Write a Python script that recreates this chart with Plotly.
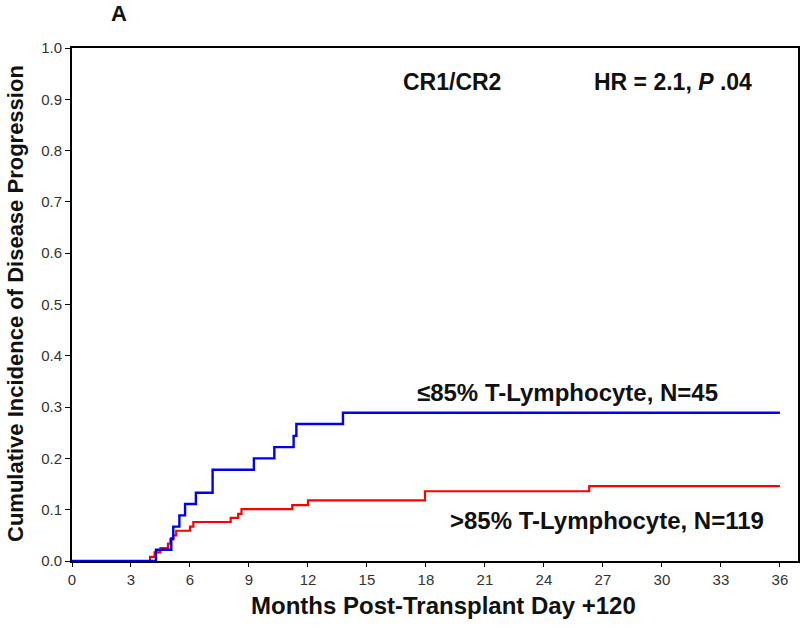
import plotly.graph_objects as go

# Data
months_low = [0, 4.27, 5.05, 5.15, 5.46, 5.75, 6.3, 7.15, 9.25, 10.29, 11.27, 11.41, 13.78, 36]
cuminc_low = [0, 0.022, 0.044, 0.067, 0.089, 0.111, 0.133, 0.178, 0.200, 0.222, 0.244, 0.267, 0.289, 0.289]

months_high = [0, 3.97, 4.2, 4.5, 4.88, 5.0, 5.15, 5.3, 6.0, 6.17, 8.07, 8.45, 8.62, 11.2, 12.0, 17.95, 26.3, 36]
cuminc_high = [0, 0.008, 0.017, 0.025, 0.034, 0.042, 0.050, 0.059, 0.067, 0.076, 0.084, 0.092, 0.101,
               0.109, 0.118, 0.136, 0.146, 0.146]

x_ticks = [0, 3, 6, 9, 12, 15, 18, 21, 24, 27, 30, 33, 36]
y_ticks = [0.0, 0.1, 0.2, 0.3, 0.4, 0.5, 0.6, 0.7, 0.8, 0.9, 1.0]

FONT = "Liberation Sans, Arial, sans-serif"

fig = go.Figure()
fig.add_trace(go.Scatter(x=months_high, y=cuminc_high, mode="lines", line_shape="hv",
                         line=dict(color="#ff0000", width=2.2), showlegend=False))
fig.add_trace(go.Scatter(x=months_low, y=cuminc_low, mode="lines", line_shape="hv",
                         line=dict(color="#0000ee", width=2.4), showlegend=False))

fig.update_layout(
    width=800, height=632,
    margin=dict(l=72, r=2, t=48, b=71),
    paper_bgcolor="white", plot_bgcolor="white",
    font=dict(family=FONT, color="#222"),
    xaxis=dict(range=[0, 36.92], tickvals=x_ticks, ticktext=[str(v) for v in x_ticks],
               showgrid=False, zeroline=False, showline=True, linecolor="black", linewidth=2,
               mirror=True, ticks="outside", ticklen=4, tickwidth=1, tickcolor="black",
               automargin=False, tickfont=dict(size=15, color="#333")),
    yaxis=dict(range=[0, 1], tickvals=y_ticks, ticktext=[f"{v:.1f}" for v in y_ticks],
               showgrid=False, zeroline=False, showline=True, linecolor="black", linewidth=2,
               mirror=True, ticks="outside", ticklen=5, tickwidth=1, tickcolor="black",
               automargin=False, tickfont=dict(size=15, color="#333")),
)

L, R, T, B = 72, 798, 48, 561
def px(xp): return (xp - L) / (R - L)
def py(yp): return (B - yp) / (B - T)

def ann(text, x, y, size, xanchor="center", angle=0):
    fig.add_annotation(text=text, x=px(x), y=py(y), xref="paper", yref="paper", xanchor=xanchor,
                       yanchor="middle", showarrow=False, textangle=angle,
                       font=dict(size=size, color="#111", family=FONT))

ann("<b>A</b>", 119, 14, 22)
ann("<b>Cumulative Incidence of Disease Progression</b>", 15, 304, 22, angle=-90)
ann("<b>Months Post-Transplant Day +120</b>", 444, 605, 24)
ann("<b>CR1/CR2</b>", 503, 82, 23, xanchor="right")
ann("<b>HR = 2.1, <i>P</i> .04</b>", 592, 82, 23, xanchor="left")
ann("<b>≤85% T-Lymphocyte, N=45</b>", 567, 392, 24)
ann("<b>>85% T-Lymphocyte, N=119</b>", 607, 520, 24)

fig.write_html("out.html", config={"displayModeBar": False},
               post_script="document.body.style.margin='0';document.body.style.overflow='hidden';")
